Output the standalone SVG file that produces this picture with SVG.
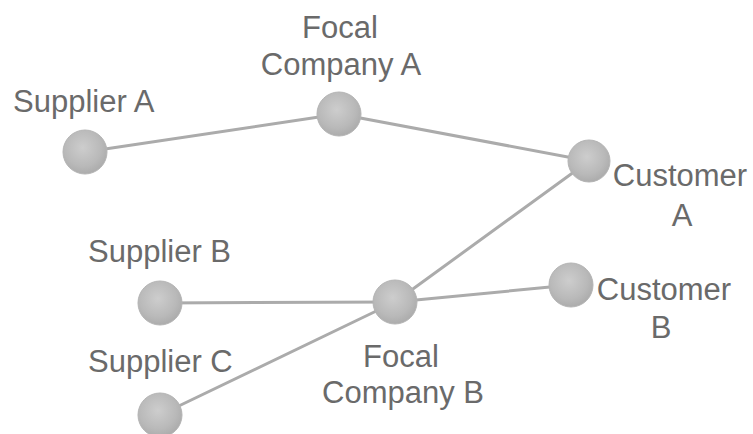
<svg xmlns="http://www.w3.org/2000/svg" width="753" height="434" viewBox="0 0 753 434">
  <defs>
    <radialGradient id="ball" cx="0.45" cy="0.4" r="0.6">
      <stop offset="0" stop-color="#cdcdcd"/>
      <stop offset="0.7" stop-color="#b9b9b9"/>
      <stop offset="1" stop-color="#acacac"/>
    </radialGradient>
  </defs>
  <style>
    .edge { stroke: #ababab; stroke-width: 3; fill: none; stroke-linecap: round; }
    .node { fill: url(#ball); stroke: #b4b4b4; stroke-width: 1; }
    .label { font-family: "Liberation Sans", Arial, sans-serif; font-size: 31px; fill: #6a6a6a; }
    .mid { text-anchor: middle; }
  </style>
  <rect width="753" height="434" fill="#ffffff"/>

  <!-- connectors -->
  <g id="connectors">
    <line class="edge" x1="85" y1="152" x2="339" y2="114"/>
    <line class="edge" x1="339" y1="114" x2="589" y2="161"/>
    <line class="edge" x1="589" y1="161" x2="395" y2="302"/>
    <line class="edge" x1="160" y1="303" x2="395" y2="302"/>
    <line class="edge" x1="395" y1="302" x2="571" y2="285"/>
    <line class="edge" x1="160" y1="415" x2="395" y2="302"/>
  </g>

  <!-- nodes -->
  <g id="supplier-a">
    <circle class="node" cx="85" cy="152" r="22"/>
    <text class="label" x="13" y="112">Supplier A</text>
  </g>
  <g id="focal-company-a">
    <circle class="node" cx="339" cy="114" r="22"/>
    <text class="label mid" x="340" y="38">Focal</text>
    <text class="label mid" x="341" y="75">Company A</text>
  </g>
  <g id="customer-a">
    <circle class="node" cx="589" cy="161" r="21"/>
    <text class="label mid" x="680" y="186">Customer</text>
    <text class="label mid" x="682" y="226">A</text>
  </g>
  <g id="supplier-b">
    <circle class="node" cx="160" cy="303" r="22"/>
    <text class="label" x="88" y="262">Supplier B</text>
  </g>
  <g id="focal-company-b">
    <circle class="node" cx="395" cy="302" r="22"/>
    <text class="label mid" x="401" y="367">Focal</text>
    <text class="label mid" x="403" y="403">Company B</text>
  </g>
  <g id="customer-b">
    <circle class="node" cx="571" cy="285" r="22"/>
    <text class="label mid" x="664" y="300">Customer</text>
    <text class="label mid" x="661" y="338">B</text>
  </g>
  <g id="supplier-c">
    <circle class="node" cx="160" cy="415" r="22"/>
    <text class="label" x="88" y="372">Supplier C</text>
  </g>
</svg>
